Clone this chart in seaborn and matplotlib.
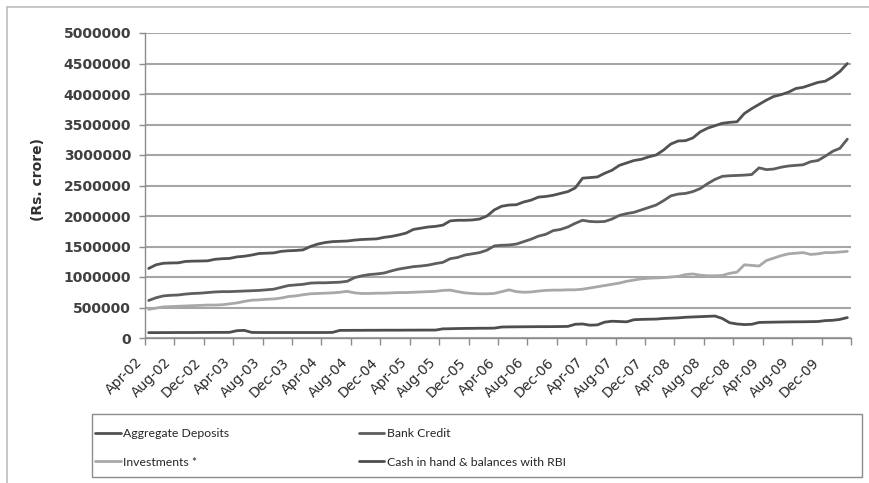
import numpy as np
import pandas as pd
import matplotlib
matplotlib.use("Agg")
import matplotlib.pyplot as plt
import matplotlib.transforms as mtransforms
from matplotlib.patches import Rectangle
from matplotlib.lines import Line2D
import seaborn as sns

# ---------------- data (values in thousand Rs. crore) ----------------
months = list(pd.date_range("2002-04-01", periods=96, freq="MS").strftime("%b-%y"))

tick_labels = ["Apr-02", "Aug-02", "Dec-02", "Apr-03", "Aug-03", "Dec-03",
               "Apr-04", "Aug-04", "Dec-04", "Apr-05", "Aug-05", "Dec-05",
               "Apr-06", "Aug-06", "Dec-06", "Apr-07", "Aug-07", "Dec-07",
               "Apr-08", "Aug-08", "Dec-08", "Apr-09", "Aug-09", "Dec-09"]

series_names = ["Aggregate Deposits", "Bank Credit", "Investments *",
                "Cash in hand & balances with RBI"]

aggregate_deposits = [
    1140, 1200, 1225, 1230, 1232, 1255, 1260, 1262, 1265, 1290, 1300, 1305,
    1330, 1340, 1360, 1385, 1390, 1395, 1420, 1430, 1435, 1445, 1500, 1540,
    1565, 1580, 1585, 1590, 1605, 1615, 1620, 1625, 1650, 1665, 1690, 1720,
    1780, 1800, 1820, 1830, 1850, 1920, 1930, 1930, 1935, 1950, 2000, 2100,
    2160, 2180, 2185, 2230, 2260, 2310, 2320, 2340, 2370, 2400, 2460, 2620,
    2630, 2640, 2700, 2750, 2830, 2870, 2910, 2930, 2970, 3000, 3080, 3180,
    3230, 3235, 3280, 3380, 3440, 3480, 3520, 3535, 3545, 3680, 3760, 3830,
    3900, 3960, 3990, 4030, 4090, 4110, 4150, 4190, 4210, 4280, 4370, 4500]

bank_credit = [
    615, 660, 690, 700, 705, 720, 730, 735, 745, 755, 760, 760,
    765, 770, 775, 780, 790, 800, 830, 860, 870, 880, 900, 905,
    905, 910, 915, 930, 990, 1020, 1040, 1050, 1065, 1100, 1130, 1150,
    1170, 1180, 1195, 1220, 1240, 1300, 1320, 1360, 1380, 1400, 1440, 1510,
    1520, 1525, 1540, 1580, 1620, 1670, 1700, 1760, 1780, 1820, 1880, 1930,
    1910, 1905, 1910, 1950, 2010, 2040, 2060, 2100, 2140, 2180, 2250, 2330,
    2360, 2370, 2400, 2450, 2530, 2600, 2650, 2660, 2665, 2670, 2680, 2790,
    2760, 2770, 2800, 2820, 2830, 2840, 2890, 2910, 2980, 3060, 3110, 3260]

investments = [
    470, 490, 510, 515, 520, 525, 530, 535, 540, 540, 545, 560,
    575, 600, 620, 625, 635, 640, 655, 680, 690, 710, 725, 730,
    735, 740, 750, 765, 740, 730, 730, 735, 735, 740, 745, 745,
    750, 755, 760, 765, 780, 785, 760, 740, 730, 725, 725, 730,
    760, 790, 760, 750, 755, 770, 780, 785, 785, 790, 790, 800,
    820, 840, 860, 880, 900, 930, 950, 970, 980, 985, 990, 1000,
    1010, 1040, 1050, 1030, 1020, 1020, 1025, 1060, 1080, 1200, 1190, 1180,
    1270, 1310, 1350, 1380, 1390, 1400, 1370, 1380, 1400, 1400, 1410, 1420]

cash_rbi = [
    88, 88, 89, 89, 90, 90, 90, 91, 91, 92, 92, 93,
    120, 125, 92, 90, 90, 90, 90, 90, 90, 90, 90, 90,
    90, 92, 125, 125, 126, 126, 127, 127, 128, 128, 128, 129,
    129, 130, 130, 130, 150, 152, 155, 157, 158, 160, 160, 162,
    180, 182, 183, 184, 185, 186, 186, 187, 188, 190, 225, 230,
    210, 215, 260, 275, 270, 265, 300, 305, 308, 310, 320, 325,
    330, 340, 345, 350, 355, 360, 320, 250, 230, 220, 225, 255,
    258, 260, 262, 264, 265, 266, 268, 270, 285, 290, 305, 335]

UNIT = 1000  # thousand crore -> crore

# ---------------- build long-form table ----------------
frames = []
for name, vals in zip(series_names,
                      [aggregate_deposits, bank_credit, investments, cash_rbi]):
    frames.append(pd.DataFrame({"idx": np.arange(len(months)),
                                "month": months,
                                "value": np.array(vals) * UNIT,
                                "series": name}))
df = pd.concat(frames, ignore_index=True)

palette = {"Aggregate Deposits": "#525252",
           "Bank Credit": "#5e5e5e",
           "Investments *": "#a8a8a8",
           "Cash in hand & balances with RBI": "#4e4e4e"}

sns.set_style("white")
plt.rcParams["font.family"] = ["DejaVu Sans"]

fig = plt.figure(figsize=(8.7, 4.83), dpi=100)
ax = fig.add_axes([145 / 870, 1 - 338 / 483, 706 / 870, 305 / 483])

sns.lineplot(data=df, x="idx", y="value", hue="series", palette=palette,
             hue_order=series_names, linewidth=2.0, ax=ax, legend=False)

# axes limits / grid
ax.set_xlim(-0.5, len(months) - 0.5)
ax.set_ylim(0, 5000000)
yt = np.arange(0, 5000001, 500000)
ax.set_yticks(yt)
ax.set_yticklabels([str(v) for v in yt], fontsize=10, fontweight="bold",
                   color="#404040")
ax.yaxis.grid(True, color="#a6a6a6", linewidth=1.5)
ax.xaxis.grid(False)
ax.set_axisbelow(True)

for s in ["top", "right"]:
    ax.spines[s].set_visible(False)
for s in ["left", "bottom"]:
    ax.spines[s].set_color("#8c8c8c")
    ax.spines[s].set_linewidth(1.0)

ax.tick_params(axis="y", length=4, width=1, color="#8c8c8c", pad=6, left=True)
xt = np.arange(-0.5, len(months), 4)
ax.set_xticks(xt)
ax.set_xticklabels(tick_labels + [""], rotation=45, ha="right", va="center",
                   rotation_mode="anchor", fontsize=10, color="#2a2a2a")
ax.tick_params(axis="x", length=5, width=1, color="#8c8c8c", pad=11, bottom=True)
offset = mtransforms.ScaledTranslation(-5 / 100, 0, fig.dpi_scale_trans)
for lbl in ax.get_xticklabels():
    lbl.set_transform(lbl.get_transform() + offset)

ax.set_xlabel("")
ax.set_ylabel("(Rs. crore)", fontsize=10, fontweight="bold", color="#303030")
ax.yaxis.set_label_coords(-0.142, 0.52)

# outer chart border (top + left)
fig.add_artist(Line2D([7 / 870, 1.0], [1 - 7 / 483, 1 - 7 / 483],
                      transform=fig.transFigure, color="#bdbdbd", lw=1.2))
fig.add_artist(Line2D([7 / 870, 7 / 870], [0.0, 1 - 7 / 483],
                      transform=fig.transFigure, color="#bdbdbd", lw=1.2))

# legend frame
fig.add_artist(Rectangle((92 / 870, 1 - 477 / 483), 770 / 870, 63 / 483,
                         transform=fig.transFigure, fill=False,
                         edgecolor="#8c8c8c", lw=1.0))

# column-first fill: col 1 = Deposits, Investments ; col 2 = Bank Credit, Cash
leg_order = ["Aggregate Deposits", "Investments *", "Bank Credit",
             "Cash in hand & balances with RBI"]
handles = [Line2D([0], [0], color=palette[n], lw=2.0) for n in leg_order]
leg = fig.legend(handles, leg_order, ncol=2, loc="upper left",
                 bbox_to_anchor=(95 / 870, 1 - 428 / 483), frameon=False,
                 prop={"family": "Lato", "size": 8.8}, labelcolor="#262626",
                 handlelength=2.1, handletextpad=0.2, columnspacing=10.6,
                 labelspacing=1.45, borderaxespad=0, borderpad=0)

fig.savefig("out.png", dpi=100, facecolor="white")
